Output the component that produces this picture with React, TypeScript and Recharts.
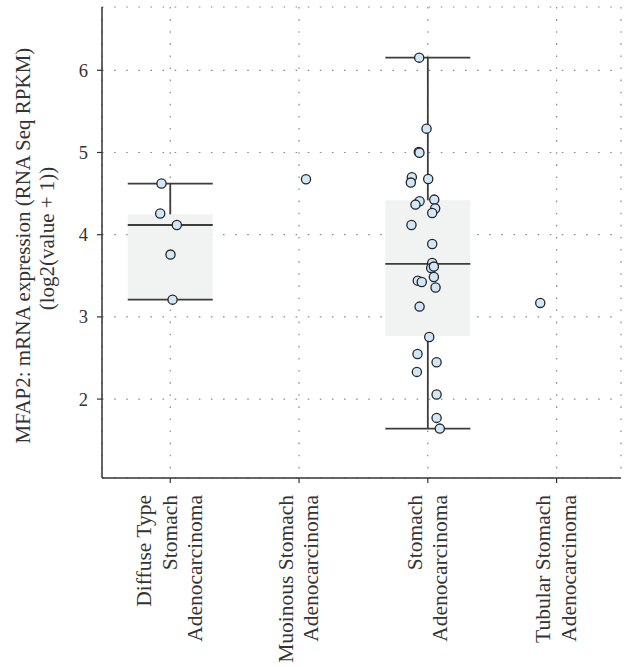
import React from "react";
import {
  ComposedChart,
  Scatter,
  XAxis,
  YAxis,
  CartesianGrid,
  ReferenceArea,
  ReferenceLine,
} from "recharts";

// ---- data ----
const categories = [
  "Diffuse Type Stomach Adenocarcinoma",
  "Muoinous Stomach Adenocarcinoma",
  "Stomach Adenocarcinoma",
  "Tubular Stomach Adenocarcinoma",
];
const tickLabelLines = [
  ["Diffuse Type", "Stomach", "Adenocarcinoma"],
  ["Muoinous Stomach", "Adenocarcinoma"],
  ["Stomach", "Adenocarcinoma"],
  ["Tubular Stomach", "Adenocarcinoma"],
];
const yTicks = [2, 3, 4, 5, 6];

// points per category: [horizontal jitter (category units), value]
const diffusePoints = [
  [-0.068, 4.622],
  [-0.078, 4.257],
  [0.051, 4.118],
  [0.002, 3.758],
  [0.018, 3.21],
];
const mucinousPoints = [[0.054, 4.674]];
const stomachPoints = [
  [-0.067, 6.154],
  [-0.01, 5.29],
  [-0.07, 5.006],
  [-0.065, 4.996],
  [-0.124, 4.7],
  [-0.132, 4.634],
  [0.003, 4.678],
  [-0.064, 4.406],
  [-0.096, 4.366],
  [0.05, 4.427],
  [0.057, 4.318],
  [0.034, 4.264],
  [-0.127, 4.118],
  [0.034, 3.887],
  [0.034, 3.656],
  [0.026, 3.595],
  [0.047, 3.612],
  [0.047, 3.485],
  [-0.078, 3.441],
  [-0.047, 3.425],
  [0.06, 3.357],
  [-0.064, 3.125],
  [0.011, 2.755],
  [-0.08, 2.549],
  [0.068, 2.448],
  [-0.085, 2.331],
  [0.068, 2.056],
  [0.068, 1.771],
  [0.093, 1.641],
];
const tubularPoints = [[-0.127, 3.17]];
const pointsByCategory = [diffusePoints, mucinousPoints, stomachPoints, tubularPoints];

// box statistics per category (null = no box)
const whiskerLow = [3.21, null, 1.641, null];
const quartile1 = [3.21, null, 2.768, null];
const medians = [4.118, null, 3.644, null];
const quartile3 = [4.248, null, 4.418, null];
const whiskerHigh = [4.622, null, 6.154, null];

// ---- styling ----
const FONT = '"Liberation Serif", "DejaVu Serif", serif';
const BOX_HALF = 0.33;
const LINE_COLOR = "#3c3c3c";
const AXIS_COLOR = "#333";

const scatterData = pointsByCategory.flatMap((pts, ci) =>
  pts.map(([j, v]) => ({ x: ci + j, y: v }))
);

const Dot = (props: any) => {
  const { cx, cy } = props;
  if (cx == null || cy == null) return null;
  return (
    <circle cx={cx} cy={cy} r={4.6} fill="#cfe7f6" stroke="#262626" strokeWidth={1.3} />
  );
};

const XTick = (props: any) => {
  const { x, y, payload } = props;
  const idx = Math.round(payload.value);
  const lines = tickLabelLines[idx] || [];
  const n = lines.length;
  const top = y + 10;
  return (
    <g>
      {lines.map((ln, i) => {
        const bx = x + 6.5 + (i - (n - 1) / 2) * 25.6;
        return (
          <text
            key={i}
            x={bx}
            y={top}
            transform={`rotate(-90 ${bx} ${top})`}
            textAnchor="end"
            fontFamily={FONT}
            fontSize={21.5}
            fill="#333"
          >
            {ln}
          </text>
        );
      })}
    </g>
  );
};

const YTitle = (props: any) => {
  const vb = props.viewBox || {};
  const cy = vb.y + vb.height / 2;
  const l1 = 30;
  const l2 = 54;
  return (
    <g>
      <text
        x={l1}
        y={cy + 3}
        transform={`rotate(-90 ${l1} ${cy + 3})`}
        textAnchor="middle"
        fontFamily={FONT}
        fontSize={21}
        fill="#333"
      >
        MFAP2: mRNA expression (RNA Seq RPKM)
      </text>
      <text
        x={l2}
        y={cy - 4}
        transform={`rotate(-90 ${l2} ${cy - 4})`}
        textAnchor="middle"
        fontFamily={FONT}
        fontSize={21}
        fill="#333"
      >
        (log2(value + 1))
      </text>
    </g>
  );
};

export default function App() {
  const boxes = categories
    .map((c, i) => ({ i, lo: whiskerLow[i], q1: quartile1[i], md: medians[i], q3: quartile3[i], hi: whiskerHigh[i] }))
    .filter((b) => b.md != null) as any[];

  return (
    <div style={{ position: "absolute", left: 0, top: 0 }}>
      <ComposedChart
        width={625}
        height={667}
        data={scatterData}
        margin={{ top: 7, right: 4, bottom: 9, left: 0 }}
      >
        <CartesianGrid stroke="#8a8a8a" strokeDasharray="1.6 10.5" strokeWidth={1.2} />
        <XAxis
          dataKey="x"
          type="number"
          domain={[-0.53, 3.5]}
          ticks={[0, 1, 2, 3]}
          allowDataOverflow
          height={180}
          tickSize={5}
          axisLine={{ stroke: AXIS_COLOR, strokeWidth: 1.5 }}
          tickLine={{ stroke: AXIS_COLOR, strokeWidth: 1.2 }}
          tick={<XTick />}
          interval={0}
        />
        <YAxis
          dataKey="y"
          type="number"
          domain={[1.04, 6.77]}
          ticks={yTicks}
          allowDataOverflow
          width={102}
          tickSize={5}
          tickMargin={9}
          axisLine={{ stroke: AXIS_COLOR, strokeWidth: 1.5 }}
          tickLine={{ stroke: AXIS_COLOR, strokeWidth: 1.2 }}
          tick={{ fontFamily: FONT, fontSize: 18.5, fill: "#333" }}
          label={{ content: (p: any) => <YTitle {...p} /> }}
        />
        {boxes.map((b) => (
          <ReferenceArea
            key={`box${b.i}`}
            x1={b.i - BOX_HALF}
            x2={b.i + BOX_HALF}
            y1={b.q1}
            y2={b.q3}
            fill="#f1f2f2"
            fillOpacity={1}
            stroke="none"
          />
        ))}
        {boxes.map((b) => (
          <ReferenceLine
            key={`wu${b.i}`}
            segment={[{ x: b.i, y: b.q3 }, { x: b.i, y: b.hi }]}
            stroke={LINE_COLOR}
            strokeWidth={1.8}
          />
        ))}
        {boxes.map((b) => (
          <ReferenceLine
            key={`wl${b.i}`}
            segment={[{ x: b.i, y: b.lo }, { x: b.i, y: b.q1 }]}
            stroke={LINE_COLOR}
            strokeWidth={1.8}
          />
        ))}
        {boxes.flatMap((b) =>
          [b.lo, b.md, b.hi].map((v, k) => (
            <ReferenceLine
              key={`h${b.i}-${k}`}
              segment={[{ x: b.i - BOX_HALF, y: v }, { x: b.i + BOX_HALF, y: v }]}
              stroke={LINE_COLOR}
              strokeWidth={1.8}
            />
          ))
        )}
        <Scatter data={scatterData} dataKey="y" isAnimationActive={false} shape={<Dot />} />
      </ComposedChart>
    </div>
  );
}
